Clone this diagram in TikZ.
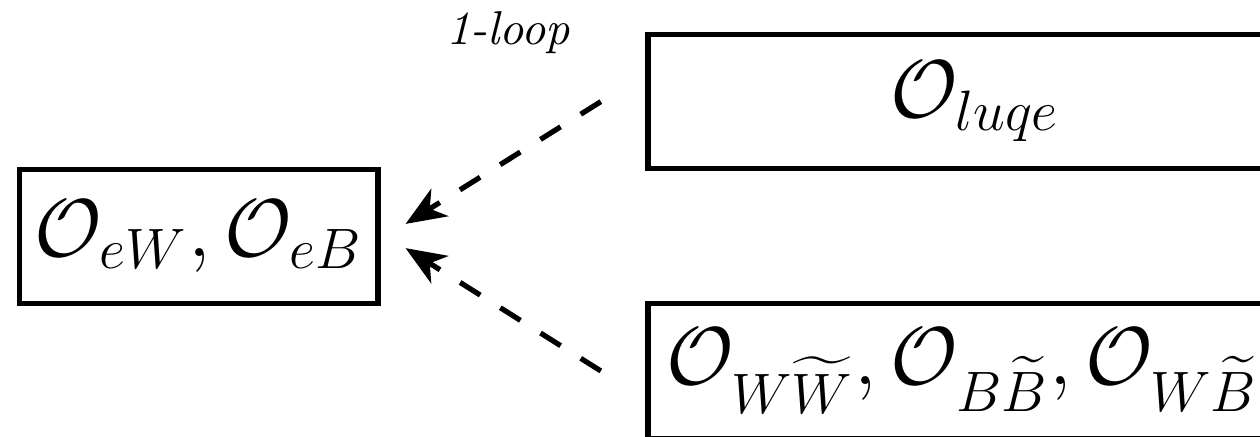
\documentclass[tikz,border=0pt]{standalone}
\usepackage{amssymb, amsmath}
\usepackage{tikz}
\usetikzlibrary{arrows.meta}

\begin{document}
\begin{tikzpicture}[x=1mm, y=1mm,
				opbox/.style={draw, rectangle, line width=1.1pt, inner sep=0pt, minimum height=9.95mm, font=\LARGE},
				mixing/.style={line width=1.1pt, dash pattern=on 5pt off 5pt, -{Stealth[length=8.5pt, width=6.8pt, inset=2.5pt]}}]
				% Bildbereich
				\useasboundingbox (0,0) rectangle (93.23,32.33);
				\clip (0,0) rectangle (93.23,32.33);
				% Operatoren
				\node[opbox, minimum width=26.51mm, minimum height=9.885mm] (dipole) at (14.71,14.84) {$\mathcal{O}_{eW}, \mathcal{O}_{eB}$};
				\node[opbox, minimum width=48.4mm] (luqe) at (72.15,24.81) {$\mathcal{O}_{luqe}$};
				\node[opbox, minimum width=46.5mm] (bosonic) at (71.2,4.88) {$\mathcal{O}_{W\widetilde{W}}, \mathcal{O}_{B\widetilde{B}}, \mathcal{O}_{W\widetilde{B}}$};
				% Mischung
				\draw[mixing] ([xshift=-3.3mm]luqe.west) -- ([xshift=1.85mm, yshift=0.92mm]dipole.east);
				\draw[mixing] ([xshift=-3.3mm]bosonic.west) -- ([xshift=1.85mm, yshift=-0.87mm]dipole.east);
				% Beschriftung
				\node[anchor=base] (loop) at (37.59,29.0) {\textit{1-loop}};
\end{tikzpicture}
\end{document}
